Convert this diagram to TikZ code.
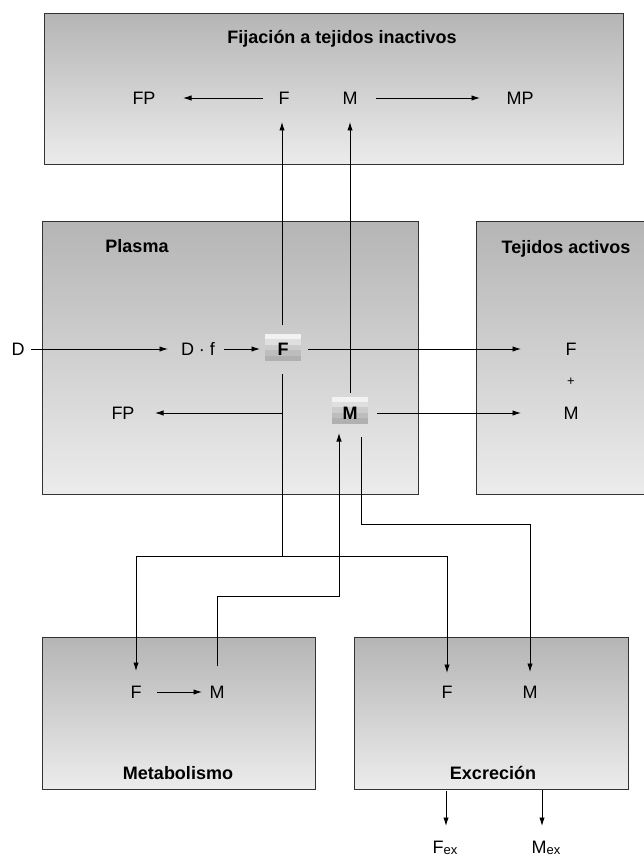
\documentclass[tikz,border=0pt]{standalone}
\usepackage{fontspec}
\setmainfont{Liberation Sans}
\usetikzlibrary{arrows.meta}
\begin{document}
\begin{tikzpicture}[x=1pt,y=-1pt,
  panel/.style={draw=black!80, line width=1pt, top color=gray!58, bottom color=gray!15, inner sep=0pt, outer sep=0pt},
  lab/.style={font=\fontsize{18}{20}\selectfont, inner sep=0pt, anchor=base},
  ttl/.style={lab, font=\fontsize{18}{20}\selectfont\bfseries},
  conn/.style={line width=0.9pt, black},
  arr/.style={conn, -{Latex[length=8.5pt,width=5.4pt]}},
  chip/.style={minimum width=36pt, minimum height=27pt, inner sep=0pt, outer sep=0pt}
]
\useasboundingbox (0,0) rectangle (644,858);

% ---------- panels ----------
\node[panel, minimum width=579pt, minimum height=151pt] (ptop) at (333.5,89.5) {};
\node[panel, minimum width=376pt, minimum height=272pt] (pplasma) at (230,358) {};
\node[panel, minimum width=170pt, minimum height=272pt] (pact) at (561,358) {};
\node[panel, minimum width=273pt, minimum height=152pt] (pmet) at (178.5,713) {};
\node[panel, minimum width=274pt, minimum height=152pt] (pexc) at (491,713) {};

% ---------- titles ----------
\node[ttl] (ttop) at (342,43.5) {Fijación a tejidos inactivos};
\node[ttl] (tplasma) at (137,252.5) {Plasma};
\node[ttl] (tact) at (566,253.5) {Tejidos activos};
\node[ttl] (tmet) at (178,779.5) {Metabolismo};
\node[ttl] (texc) at (493,779.5) {Excreción};

% ---------- gradient chips F and M ----------
\foreach \cx/\cy/\nm in {283/347.5/cF, 350/410/cM}{
  \node[chip] (\nm) at (\cx,\cy) {};
  \fill[gray!10] (\cx-18,\cy-13.5) rectangle (\cx+18,\cy-8.1);
  \fill[gray!25] (\cx-18,\cy-8.1) rectangle (\cx+18,\cy-2.7);
  \fill[gray!40] (\cx-18,\cy-2.7) rectangle (\cx+18,\cy+2.7);
  \fill[gray!52] (\cx-18,\cy+2.7) rectangle (\cx+18,\cy+8.1);
  \fill[gray!62] (\cx-18,\cy+8.1) rectangle (\cx+18,\cy+13.5);
}
\node[ttl] (chF) at (283,355.5) {F};
\node[ttl] (chM) at (350,419.5) {M};

% ---------- labels ----------
\node[lab] (uFP) at (144,104.5) {FP};
\node[lab] (uF) at (284,104.5) {F};
\node[lab] (uM) at (350,104.5) {M};
\node[lab] (uMP) at (520,104.5) {MP};

\node[lab] (D) at (18,355.5) {D};
\node[lab] (Df) at (198,355.5) {D · f};
\node[lab] (pFP) at (123,419.5) {FP};

\node[lab] (aF) at (571,355.5) {F};
\node[font=\fontsize{13}{14}\selectfont, inner sep=0pt] (aplus) at (571,382) {+};
\node[lab] (aM) at (571,419.5) {M};

\node[lab] (mF) at (136,698.5) {F};
\node[lab] (mM) at (217,698.5) {M};
\node[lab] (eF) at (447,698.5) {F};
\node[lab] (eM) at (530,698.5) {M};

\node[lab] (Fex) at (445,853) {F\raisebox{-1.2pt}{\fontsize{13}{14}\selectfont ex}};
\node[lab] (Mex) at (546,853) {M\raisebox{-1.2pt}{\fontsize{13}{14}\selectfont ex}};

% ---------- connector points ----------
\coordinate (a1s) at (263,98);  \coordinate (a1e) at (183,98);
\coordinate (a2s) at (376,98);  \coordinate (a2e) at (480,98);
\coordinate (Fup) at (282,325); \coordinate (Fupe) at (282,122);
\coordinate (Mup) at (350,393); \coordinate (Mupe) at (350,122);
\coordinate (Ds) at (31,349);   \coordinate (De) at (168,349);
\coordinate (Dfs) at (224,349); \coordinate (Dfe) at (260,349);
\coordinate (Frs) at (308,349); \coordinate (Fre) at (521,349);
\coordinate (Mrs) at (377,413); \coordinate (Mre) at (521,413);
\coordinate (J1) at (282,413);  \coordinate (FPe) at (155,413);
\coordinate (Fdn) at (282,374); \coordinate (J2) at (282,556);
\coordinate (HL) at (136,556);  \coordinate (HR) at (447,556);
\coordinate (mFe) at (136,671); \coordinate (eFe) at (447,673);
\coordinate (mMs) at (217,666); \coordinate (b1) at (217,596);
\coordinate (b2) at (339,596);  \coordinate (cMin) at (339,433);
\coordinate (cMout) at (361,437); \coordinate (b3) at (361,524);
\coordinate (b4) at (530,524);  \coordinate (eMe) at (530,672);
\coordinate (mfs) at (157,692); \coordinate (mfe) at (202,692);
\coordinate (x1s) at (446,791); \coordinate (x1e) at (446,826);
\coordinate (x2s) at (542,790); \coordinate (x2e) at (542,826);

% ---------- connectors ----------
\draw[arr] (a1s) -- (a1e);
\draw[arr] (a2s) -- (a2e);
\draw[arr] (Fup) -- (Fupe);
\draw[arr] (Mup) -- (Mupe);
\draw[arr] (Ds) -- (De);
\draw[arr] (Dfs) -- (Dfe);
\draw[arr] (Frs) -- (Fre);
\draw[arr] (Mrs) -- (Mre);
\draw[arr] (J1) -- (FPe);
\draw[conn] (Fdn) -- (J2);
\draw[conn] (HL) -- (HR);
\draw[arr] (HL) -- (mFe);
\draw[arr] (HR) -- (eFe);
\draw[arr] (mMs) -- (b1) -- (b2) -- (cMin);
\draw[arr] (cMout) -- (b3) -- (b4) -- (eMe);
\draw[arr] (mfs) -- (mfe);
\draw[arr] (x1s) -- (x1e);
\draw[arr] (x2s) -- (x2e);
\end{tikzpicture}
\end{document}
